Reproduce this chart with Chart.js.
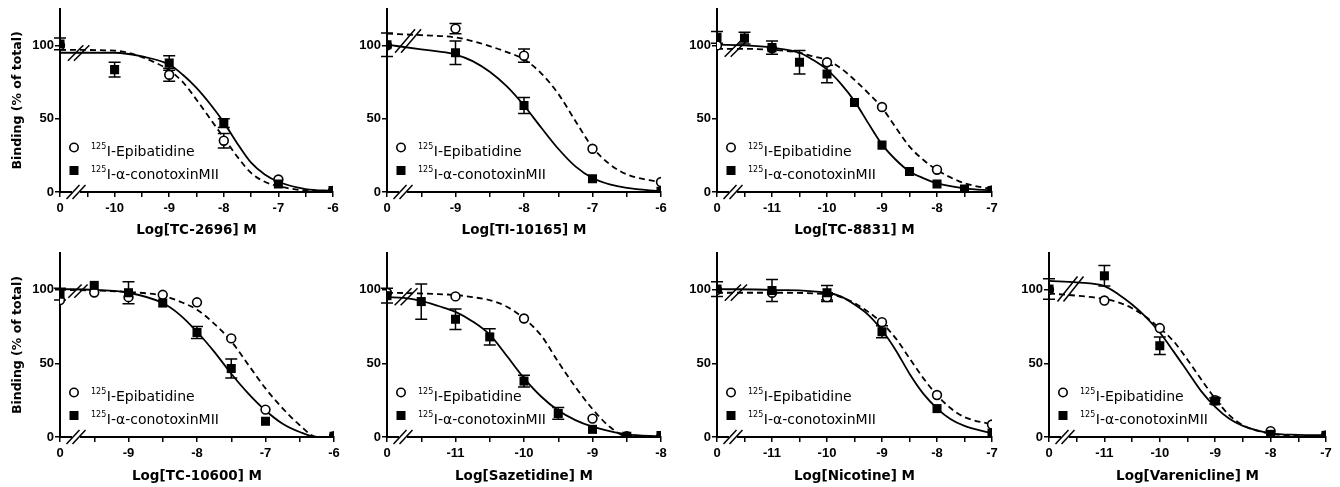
<!DOCTYPE html>
<html lang="en">
<head>
<meta charset="utf-8">
<title>Binding (% of total)</title>
<script src="https://cdn.jsdelivr.net/npm/chart.js@4.4.1/dist/chart.umd.min.js"></script>
<style>
    html, body { margin: 0; padding: 0; background: #fff; }
    body { position: relative; width: 1340px; height: 487px; overflow: hidden; }
    canvas { position: absolute; }
</style>
</head>
<body>
<canvas id="c0"></canvas>
<canvas id="c1"></canvas>
<canvas id="c2"></canvas>
<canvas id="c3"></canvas>
<canvas id="c4"></canvas>
<canvas id="c5"></canvas>
<canvas id="c6"></canvas>
<script>
// Données (x = log[M], 0 = sans compétiteur)
const drugNames = ['TC-2696', 'TI-10165', 'TC-8831', 'TC-10600', 'Sazetidine', 'Nicotine', 'Varenicline'];
const logMin = [-11, -10, -12, -10, -12, -12, -12];   // où l'on place le point "0"
const logMax = [-6, -6, -7, -6, -8, -7, -7];
const yTicks = [0, 50, 100];
const isotope = '125';
const legendLabels = ['I-Epibatidine', 'I-\u03B1-conotoxinMII'];

// TC-2696
const tc2696EpiX = [0, -9, -8, -7, -6];
const tc2696EpiY = [100, 80, 35, 8.5, 0.8];
const tc2696EpiErr = [0, 4.5, 5, 0, 0];
const tc2696MiiX = [0, -10, -9, -8, -7, -6];
const tc2696MiiY = [101, 83.5, 88, 47, 5.5, 1];
const tc2696MiiErr = [4, 5, 5, 3, 0, 0];
const tc2696FitX = [0, -10, -9.5, -9, -8.75, -8.5, -8.25, -8, -7.75, -7.5, -7.25, -7, -6.5, -6];
const tc2696FitMii = [95, 95, 92.5, 87, 80, 71, 60, 47.5, 33, 20, 12, 7, 2, 0.8];
const tc2696FitEpi = [97, 96.5, 92, 83, 75, 63, 50, 37, 24, 13, 7, 4, 1, 0.5];

// TI-10165
const ti10165EpiX = [0, -9, -8, -7, -6];
const ti10165EpiY = [100, 111.5, 93, 29.5, 6.8];
const ti10165EpiErr = [0, 3.5, 4.5, 0, 0];
const ti10165MiiX = [0, -9, -8, -7, -6];
const ti10165MiiY = [100.5, 95, 59, 9, 0.5];
const ti10165MiiErr = [8, 8, 5.5, 0, 0];
const ti10165FitX = [0, -9.5, -9, -8.75, -8.5, -8.25, -8, -7.75, -7.5, -7.25, -7, -6.75, -6.5, -6];
const ti10165FitMii = [100.5, 97.3, 93.8, 89.3, 82, 72, 59, 44, 29.5, 17.5, 9.5, 5.2, 2.8, 0.5];
const ti10165FitEpi = [108, 107, 105.5, 103, 99.5, 95.5, 90.5, 81, 67, 48.5, 30.5, 19, 12, 6.6];

// TC-8831
const tc8831EpiX = [0, -11, -10, -9, -8, -7];
const tc8831EpiY = [100, 98, 88.5, 58, 15.2, 1];
const tc8831EpiErr = [0, 0, 0, 0, 0, 0];
const tc8831MiiX = [0, -11.5, -11, -10.5, -10, -9.5, -9, -8.5, -8, -7.5, -7];
const tc8831MiiY = [105.5, 105, 98.5, 88.5, 80.5, 61, 32, 14, 5.5, 2, 1];
const tc8831MiiErr = [4, 4, 4.5, 8, 6, 0, 0, 0, 0, 0, 0];
const tc8831FitX = [0, -11.5, -11, -10.5, -10.25, -10, -9.75, -9.5, -9.25, -9, -8.75, -8.5, -8.25, -8, -7.5, -7];
const tc8831FitMii = [100.5, 100, 98.5, 95, 90, 83.5, 74, 62, 47, 32.5, 22, 14, 9.5, 6, 2.5, 1.1];
const tc8831FitEpi = [97.7, 97.7, 97, 95, 92.5, 90, 84.5, 76.5, 67.5, 57.5, 44, 31, 22, 15, 6, 2];

// TC-10600
const tc10600EpiX = [0, -9.5, -9, -8.5, -8, -7.5, -7, -6];
const tc10600EpiY = [93, 98.2, 95, 96.6, 91.5, 67, 18.6, 0.5];
const tc10600EpiErr = [0, 0, 0, 0, 0, 0, 0, 0];
const tc10600MiiX = [0, -9.5, -9, -8.5, -8, -7.5, -7, -6];
const tc10600MiiY = [97, 103, 98, 91, 71, 46.5, 10.7, 0.5];
const tc10600MiiErr = [4, 0, 7.5, 0, 4, 6.5, 0, 0];
const tc10600FitX = [0, -9.5, -9, -8.5, -8.25, -8, -7.75, -7.5, -7.25, -7, -6.75, -6.5, -6.25, -6];
const tc10600FitMii = [100.5, 100, 98, 91, 83, 71.5, 58, 43, 29.5, 18, 9, 3.4, 0, 0];
const tc10600FitEpi = [100, 99.5, 98.5, 96, 92, 86.5, 77, 65, 49, 33, 19.5, 8, 0, 0];

// Sazetidine
const sazEpiX = [0, -11, -10, -9, -8.5, -8];
const sazEpiY = [98, 95.5, 80.5, 12.5, 0.5, 0];
const sazEpiErr = [0, 0, 0, 0, 0, 0];
const sazMiiX = [0, -11.5, -11, -10.5, -10, -9.5, -9, -8.5, -8];
const sazMiiY = [96, 92, 80, 68, 38, 16, 5.2, 0.5, 1];
const sazMiiErr = [5, 12, 7, 5.5, 4, 4, 0, 0, 0];
const sazFitX = [0, -11.75, -11.5, -11.25, -11, -10.75, -10.5, -10.25, -10, -9.75, -9.5, -9.25, -9, -8.75, -8.5, -8];
const sazFitMii = [95, 94.5, 92.5, 89, 85, 78.5, 69.5, 55, 40, 27.5, 18, 11.5, 7, 4, 1.8, 0.5];
const sazFitEpi = [98, 97.8, 97.5, 97, 96.5, 95, 93, 88.5, 80.5, 69, 51, 34, 19, 7, 0.5, 0];

// Nicotine
const nicEpiX = [0, -11, -10, -9, -8, -7];
const nicEpiY = [100, 98, 95, 78, 28.5, 8.5];
const nicEpiErr = [0, 0, 3, 0, 0, 0];
const nicMiiX = [0, -11, -10, -9, -8, -7];
const nicMiiY = [100.5, 99.5, 98, 71.5, 19.3, 2.7];
const nicMiiErr = [5, 7.5, 5, 4, 0, 0];
const nicFitX = [0, -11, -10, -9.75, -9.5, -9.25, -9, -8.75, -8.5, -8.25, -8, -7.75, -7.5, -7];
const nicFitMii = [100.5, 100, 98, 95.5, 90, 83, 72.5, 59, 43, 29.5, 19.5, 12, 7.5, 2.5];
const nicFitEpi = [98, 98, 97, 95, 91, 85, 77.5, 67, 53.5, 40, 28.5, 19.5, 13.5, 8.5];

// Varenicline
const varEpiX = [0, -11, -10, -9, -8, -7];
const varEpiY = [100, 92.7, 74, 25, 4, 1];
const varEpiErr = [0, 0, 0, 0, 0, 0];
const varMiiX = [0, -11, -10, -9, -8, -7];
const varMiiY = [100.5, 109.5, 62, 24.5, 1.8, 1.1];
const varMiiErr = [7, 7, 6, 2, 0, 0];
const varFitX = [0, -11.5, -11, -10.75, -10.5, -10.25, -10, -9.75, -9.5, -9.25, -9, -8.75, -8.5, -8, -7.5, -7];
const varFitMii = [106, 105, 102.5, 97, 90, 81.5, 71, 58, 44.5, 31, 20.5, 12.5, 7.5, 2.5, 1.5, 1.2];
const varFitEpi = [97.5, 96, 93.8, 91.5, 87.5, 81.5, 74, 65, 52.5, 39, 26, 15, 8, 2.3, 0.5, 0];

const panels = [
    { epiX: tc2696EpiX, epiY: tc2696EpiY, epiErr: tc2696EpiErr, miiX: tc2696MiiX, miiY: tc2696MiiY, miiErr: tc2696MiiErr, fitX: tc2696FitX, fitMii: tc2696FitMii, fitEpi: tc2696FitEpi },
    { epiX: ti10165EpiX, epiY: ti10165EpiY, epiErr: ti10165EpiErr, miiX: ti10165MiiX, miiY: ti10165MiiY, miiErr: ti10165MiiErr, fitX: ti10165FitX, fitMii: ti10165FitMii, fitEpi: ti10165FitEpi },
    { epiX: tc8831EpiX, epiY: tc8831EpiY, epiErr: tc8831EpiErr, miiX: tc8831MiiX, miiY: tc8831MiiY, miiErr: tc8831MiiErr, fitX: tc8831FitX, fitMii: tc8831FitMii, fitEpi: tc8831FitEpi },
    { epiX: tc10600EpiX, epiY: tc10600EpiY, epiErr: tc10600EpiErr, miiX: tc10600MiiX, miiY: tc10600MiiY, miiErr: tc10600MiiErr, fitX: tc10600FitX, fitMii: tc10600FitMii, fitEpi: tc10600FitEpi },
    { epiX: sazEpiX, epiY: sazEpiY, epiErr: sazEpiErr, miiX: sazMiiX, miiY: sazMiiY, miiErr: sazMiiErr, fitX: sazFitX, fitMii: sazFitMii, fitEpi: sazFitEpi },
    { epiX: nicEpiX, epiY: nicEpiY, epiErr: nicEpiErr, miiX: nicMiiX, miiY: nicMiiY, miiErr: nicMiiErr, fitX: nicFitX, fitMii: nicFitMii, fitEpi: nicFitEpi },
    { epiX: varEpiX, epiY: varEpiY, epiErr: varEpiErr, miiX: varMiiX, miiY: varMiiY, miiErr: varMiiErr, fitX: varFitX, fitMii: varFitMii, fitEpi: varFitEpi }
];

// Mise en page : canvas et zone de tracé (pixels de la page)
const boxes = [
    { left: 0,    top: 0,   width: 345, height: 240, plotLeft: 60,   plotRight: 333,  plotTop: 8,   xAxisH: 48, titlePad: 1,   yTitle: true },
    { left: 345,  top: 0,   width: 330, height: 240, plotLeft: 387,  plotRight: 661,  plotTop: 8,   xAxisH: 48, titlePad: 1,   yTitle: false },
    { left: 675,  top: 0,   width: 330, height: 240, plotLeft: 717,  plotRight: 992,  plotTop: 8,   xAxisH: 48, titlePad: 1,   yTitle: false },
    { left: 0,    top: 243, width: 345, height: 244, plotLeft: 60,   plotRight: 334,  plotTop: 253, xAxisH: 50, titlePad: 2.4, yTitle: true },
    { left: 345,  top: 243, width: 330, height: 244, plotLeft: 387,  plotRight: 661,  plotTop: 253, xAxisH: 50, titlePad: 2.4, yTitle: false },
    { left: 675,  top: 243, width: 330, height: 244, plotLeft: 717,  plotRight: 992,  plotTop: 253, xAxisH: 50, titlePad: 2.4, yTitle: false },
    { left: 1005, top: 243, width: 335, height: 244, plotLeft: 1049, plotRight: 1326, plotTop: 253, xAxisH: 50, titlePad: 2.4, yTitle: false }
];

const FONT = '"DejaVu Sans", "Liberation Sans", sans-serif';
const TICK_FONT = '"Liberation Sans", Arial, sans-serif';

function slash(ctx, cx, cy, w, h) {
    ctx.beginPath();
    ctx.moveTo(cx - w / 2, cy + h / 2);
    ctx.lineTo(cx + w / 2, cy - h / 2);
    ctx.stroke();
}

// Barres d'erreur (SEM) sous les symboles
function drawErrorBars(chart) {
    const ctx = chart.ctx;
    const yScale = chart.scales.y;
    ctx.save();
    ctx.strokeStyle = '#000';
    ctx.lineWidth = 1.5;
    [0, 1].forEach(d => {
        const ds = chart.data.datasets[d];
        chart.getDatasetMeta(d).data.forEach((pt, k) => {
            const err = ds.errors[k];
            if (!err) return;
            const v = ds.data[k].y;
            const yHi = yScale.getPixelForValue(v + err);
            const yLo = yScale.getPixelForValue(v - err);
            ctx.beginPath();
            ctx.moveTo(pt.x, yHi); ctx.lineTo(pt.x, yLo);
            ctx.moveTo(pt.x - 6, yHi); ctx.lineTo(pt.x + 6, yHi);
            ctx.moveTo(pt.x - 6, yLo); ctx.lineTo(pt.x + 6, yLo);
            ctx.stroke();
        });
    });
    ctx.restore();
}

// Coupures de l'axe x et des courbes
function drawBreaks(chart) {
    const ctx = chart.ctx;
    const a = chart.chartArea;
    ctx.save();
    const bx = a.left + 16;
    ctx.fillStyle = '#fff';
    ctx.fillRect(bx - 4, a.bottom - 2, 8, 4);
    ctx.strokeStyle = '#000';
    ctx.lineWidth = 1.5;
    slash(ctx, bx - 3, a.bottom, 13, 14);
    slash(ctx, bx + 3, a.bottom, 13, 14);

    const c1 = chart.getDatasetMeta(2).data[0].y;
    const c2 = chart.getDatasetMeta(3).data[0].y;
    const top = Math.min(c1, c2) - 4.5;
    const bot = Math.max(c1, c2) + 8;
    const h = bot - top;
    const w = Math.min(h, 20);
    const cx = a.left + 14 + h * 0.3;
    slash(ctx, cx - 3, (top + bot) / 2, w, h);
    slash(ctx, cx + 3, (top + bot) / 2, w, h);
    ctx.restore();
}

// Légende dans la zone de tracé
function drawLegend(chart) {
    const ctx = chart.ctx;
    const a = chart.chartArea;
    const mx = a.left + 14;
    const rows = [a.bottom - 44.5, a.bottom - 21.5];
    ctx.save();
    ctx.fillStyle = '#000';
    ctx.strokeStyle = '#000';
    rows.forEach((y, r) => {
        if (r === 0) {
            ctx.lineWidth = 1.6;
            ctx.beginPath();
            ctx.arc(mx, y, 4.2, 0, Math.PI * 2);
            ctx.fillStyle = '#fff';
            ctx.fill();
            ctx.stroke();
            ctx.fillStyle = '#000';
        } else {
            ctx.fillRect(mx - 4.5, y - 4.5, 9, 9);
        }
        ctx.textAlign = 'left';
        ctx.textBaseline = 'alphabetic';
        ctx.font = '8px ' + FONT;
        ctx.fillText(isotope, mx + 17, y + 1.8);
        const sw = ctx.measureText(isotope).width;
        ctx.font = '14px ' + FONT;
        ctx.fillText(legendLabels[r], mx + 17 + sw + 0.5, y + 8.7);
    });
    ctx.restore();
}

const extras = {
    id: 'extras',
    beforeDatasetsDraw(chart) { drawErrorBars(chart); },
    afterDatasetsDraw(chart) { drawBreaks(chart); },
    afterDraw(chart) { drawLegend(chart); }
};

function makePanel(i) {
    const b = boxes[i];
    const p = panels[i];
    const min = logMin[i];
    const max = logMax[i];
    const canvas = document.getElementById('c' + i);
    canvas.width = b.width;
    canvas.height = b.height;
    canvas.style.left = b.left + 'px';
    canvas.style.top = b.top + 'px';

    const toXY = (xs, ys) => xs.map((x, k) => ({ x: x === 0 ? min : x, y: ys[k] }));
    const tickFont = { family: TICK_FONT, weight: 'bold', size: 13 };

    new Chart(canvas, {
        type: 'line',
        data: {
            datasets: [
                { label: 'mII', data: toXY(p.miiX, p.miiY), errors: p.miiErr, showLine: false,
                  pointStyle: 'rect', pointRadius: 6.4, pointBackgroundColor: '#000', pointBorderColor: '#000', pointBorderWidth: 0 },
                { label: 'epi', data: toXY(p.epiX, p.epiY), errors: p.epiErr, showLine: false,
                  pointStyle: 'circle', pointRadius: 4.4, pointBackgroundColor: '#fff', pointBorderColor: '#000', pointBorderWidth: 1.6 },
                { label: 'fitMii', data: toXY(p.fitX, p.fitMii), borderColor: '#000', borderWidth: 1.8,
                  pointRadius: 0, cubicInterpolationMode: 'monotone', fill: false },
                { label: 'fitEpi', data: toXY(p.fitX, p.fitEpi), borderColor: '#000', borderWidth: 1.8, borderDash: [6, 4],
                  pointRadius: 0, cubicInterpolationMode: 'monotone', fill: false }
            ]
        },
        options: {
            responsive: false,
            devicePixelRatio: 1,
            animation: false,
            events: [],
            layout: { padding: { left: 0, top: b.plotTop - b.top, right: b.left + b.width - b.plotRight, bottom: 0 } },
            plugins: { legend: { display: false }, tooltip: { enabled: false } },
            scales: {
                x: {
                    type: 'linear', min: min, max: max,
                    afterBuildTicks: s => {
                        const t = [];
                        for (let v = min; v <= max; v += 0.5) t.push({ value: v });
                        s.ticks = t;
                    },
                    afterFit: s => { s.height = b.xAxisH; },
                    ticks: {
                        autoSkip: false, maxRotation: 0, minRotation: 0, padding: 4, color: '#000', font: tickFont,
                        callback: v => v === min ? '0' : (Number.isInteger(v) ? String(v) : '')
                    },
                    grid: { drawOnChartArea: false, tickLength: 5, color: '#000', lineWidth: 1.5 },
                    border: { color: '#000', width: 2 },
                    title: {
                        display: true, text: 'Log[' + drugNames[i] + '] M', color: '#000',
                        font: { family: FONT, weight: 'bold', size: 13.5 },
                        padding: { top: 0, bottom: b.titlePad }
                    }
                },
                y: {
                    min: 0, max: 125,
                    afterBuildTicks: s => { s.ticks = yTicks.map(v => ({ value: v })); },
                    afterFit: s => { s.width = b.plotLeft - b.left; },
                    ticks: { padding: 1, color: '#000', font: tickFont },
                    grid: { drawOnChartArea: false, tickLength: 5, color: '#000', lineWidth: 1.5 },
                    border: { color: '#000', width: 2 },
                    title: {
                        display: b.yTitle, text: 'Binding (% of total)', color: '#000',
                        font: { family: FONT, weight: 'bold', size: 12.5 },
                        padding: { top: 10.5, bottom: 0 }
                    }
                }
            }
        },
        plugins: [extras]
    });
}

document.addEventListener('DOMContentLoaded', function () {
    panels.forEach((p, i) => makePanel(i));
});
</script>
</body>
</html>
